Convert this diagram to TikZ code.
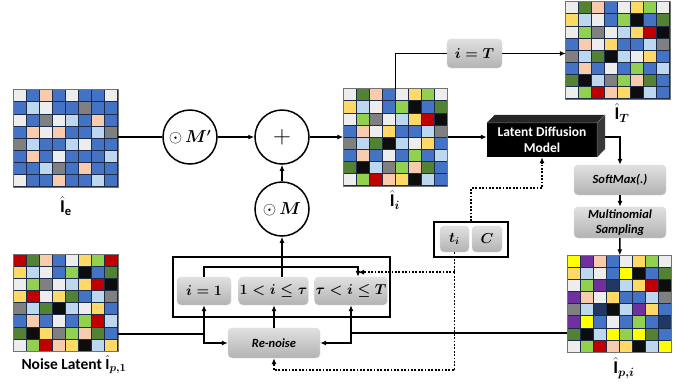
\documentclass[tikz,border=0pt]{standalone}
\usepackage{bm}
\usepackage{fontspec}
\setmainfont{Carlito}
\usetikzlibrary{arrows.meta,calc,positioning}

\definecolor{cB}{HTML}{4472C4}
\definecolor{cL}{HTML}{BDD7EE}
\definecolor{cW}{HTML}{EDEDED}
\definecolor{cP}{HTML}{F8CBAD}
\definecolor{cG}{HTML}{808080}
\definecolor{cY}{HTML}{FFD966}
\definecolor{cD}{HTML}{548235}
\definecolor{cN}{HTML}{92D050}
\definecolor{cK}{HTML}{0D0D0D}
\definecolor{cR}{HTML}{C00000}
\definecolor{cV}{HTML}{7030A0}
\definecolor{cU}{HTML}{FFFF00}
\definecolor{cA}{HTML}{1F3864}
\definecolor{gridline}{HTML}{1C2B4A}

\tikzset{
  gridbox/.style={minimum width=104pt, minimum height=97pt, inner sep=0pt},
  gridlabel/.style={font=\fontsize{18}{20}\selectfont},
  opcircle/.style={circle, draw, line width=1.5pt, minimum size=54pt, inner sep=0pt,
    font=\fontsize{16}{18}\selectfont},
  graybox/.style={rounded corners=4pt, top color=black!12, bottom color=black!30,
    draw=black!14, inner sep=1pt, align=center, font=\fontsize{12.5}{15}\selectfont\bfseries\itshape},
  mathbox/.style={graybox, font=\fontsize{14}{16}\selectfont\boldmath},
  framebox/.style={draw, line width=1.5pt, inner sep=0pt},
  ldmbox/.style={fill=black, text=white, minimum width=110pt, minimum height=34pt,
    inner sep=1pt, align=center, font=\fontsize{13.5}{16}\selectfont\bfseries},
  link/.style={line width=1.6pt},
  dotlink/.style={line width=1.8pt, dash pattern=on 1.8pt off 1.6pt},
  >={Latex[length=6pt,width=5pt]}
}

\newcommand{\latentgrid}[2]{%
  \begin{scope}[shift={(#1.north west)}]
    \foreach \cellrow [count=\ri] in {#2} {
      \foreach \cellc [count=\ci] in \cellrow {
        \path[fill=c\cellc, draw=gridline, line width=1pt]
          ({(\ci-1)*13},{(\ri-1)*12.125}) rectangle ++(13,12.125);
      }
    }
  \end{scope}
  \draw[draw=black!55, line width=1pt] (#1.north west) rectangle (#1.south east);
}

\begin{document}
\begin{tikzpicture}[x=1pt,y=-1pt]
  \useasboundingbox (0,0) rectangle (694,384);

  % latent grids
  \node[gridbox] (gridE) at (66,138.5) {};
  \node[gridbox] (gridN) at (66,303) {};
  \node[gridbox] (gridI) at (395.5,137.5) {};
  \node[gridbox] (gridT) at (618,50.5) {};
  \node[gridbox] (gridP) at (619.5,304) {};

  \latentgrid{gridE}{{W,B,P,B,W,B,B,W},{B,L,W,B,B,G,B,B},{W,B,G,W,L,B,P,B},{B,P,W,P,B,B,L,G},
    {G,L,B,B,L,W,B,B},{B,P,B,W,B,B,B,L},{B,B,L,G,B,P,B,B},{W,B,B,P,B,B,L,B}}
  \latentgrid{gridN}{{R,D,P,B,W,Y,N,R},{Y,L,W,B,N,K,B,D},{W,N,G,W,L,Y,R,K},{Y,R,W,Y,D,B,L,G},
    {G,L,D,K,L,W,Y,B},{B,P,B,W,B,N,R,L},{D,K,Y,G,N,P,D,B},{W,N,R,P,Y,K,L,Y}}
  \latentgrid{gridI}{{W,D,P,B,W,Y,N,W},{Y,L,W,B,N,K,B,D},{W,N,G,W,L,Y,R,K},{B,P,W,Y,B,B,L,G},
    {G,L,D,K,L,W,Y,B},{B,P,B,W,B,N,B,L},{D,K,L,G,N,P,D,B},{W,N,R,P,Y,K,L,B}}
  \latentgrid{gridT}{{W,D,P,B,W,Y,N,W},{Y,L,W,B,N,K,B,D},{W,N,G,W,L,Y,R,K},{B,P,W,Y,B,B,L,G},
    {G,L,D,K,L,W,Y,B},{B,P,B,W,B,N,B,L},{D,K,L,G,N,P,D,B},{W,N,R,P,Y,K,L,B}}
  \latentgrid{gridP}{{U,V,P,B,W,Y,N,W},{Y,L,W,B,U,K,B,D},{W,N,V,A,L,Y,R,K},{V,P,W,Y,B,B,L,G},
    {G,L,A,K,L,V,Y,B},{V,U,B,W,B,N,B,A},{D,K,L,U,N,U,D,B},{W,N,R,P,Y,K,L,U}}

  \node[gridlabel] (labE) at (66,206) {$\hat{\mathbf{I}}_{\mathbf{e}}$};
  \node[gridlabel] (labI) at (395,200) {$\hat{\mathbf{I}}_{\bm{i}}$};
  \node[gridlabel] (labT) at (622,113) {$\hat{\mathbf{I}}_{\bm{T}}$};
  \node[gridlabel] (labP) at (624,368) {$\hat{\mathbf{I}}_{\bm{p,i}}$};
  \node[font=\fontsize{15.5}{18}\selectfont\bfseries] (labN) at (74,365)
    {Noise Latent $\hat{\mathbf{I}}_{\bm{p,1}}$};

  % masking
  \node[opcircle] (mprime) at (190,137) {$\odot\,\bm{M'}$};
  \node[opcircle] (plus) at (282,137) {\fontsize{30}{30}\selectfont$+$};
  \node[opcircle] (mmask) at (282,209) {$\odot\,\bm{M}$};

  % diffusion
  \node[mathbox, minimum width=55pt, minimum height=29pt] (iT) at (474.5,53.5) {$i=T$};
  \node[ldmbox] (ldm) at (542,140) {Latent Diffusion\\Model};
  \node[graybox, minimum width=92pt, minimum height=30pt] (softmax) at (620,180) {SoftMax(.)};
  \node[graybox, minimum width=92pt, minimum height=31pt] (multi) at (620,222.5) {Multinomial\\Sampling};

  \node[framebox, minimum width=74pt, minimum height=35pt] (cond) at (471,239.5) {};
  \node[mathbox, minimum width=29pt, minimum height=26pt] (ti) at (454.5,239) {$t_i$};
  \node[mathbox, minimum width=30pt, minimum height=26pt] (cc) at (487,239) {$C$};

  % schedule
  \node[framebox, minimum width=217pt, minimum height=60pt] (stages) at (281.5,287) {};
  \node[mathbox, minimum width=54pt, minimum height=28pt] (s1) at (204,291) {$i=1$};
  \node[mathbox, minimum width=67pt, minimum height=28pt] (s2) at (273.5,291) {$1<i\le\tau$};
  \node[mathbox, minimum width=68pt, minimum height=28pt] (s3) at (351,291) {$\tau<i\le T$};
  \node[graybox, minimum width=92pt, minimum height=30pt] (renoise) at (274,343) {Re-noise};

  \coordinate (loop) at (358,267);
  \coordinate (nout) at ($(gridN.east)+(0,31)$);
  \coordinate (pout) at ($(gridP.west)+(0,29)$);
  \coordinate (tsplit) at ($(ti.south)+(0,20)$);

  \draw[link] (mprime.west -| gridE.east) -- (mprime.west);
  \draw[link,->] (mprime) -- (plus);
  \draw[link,->] (mmask) -- (plus);
  \draw[link,->] (plus.east) -- (plus.east -| gridI.west);
  \draw[link,->] (plus.east -| gridI.east) -- (plus.east -| ldm.west);
  \draw[link] (gridI.north) |- (iT.west);
  \draw[link,->] (iT.east) -- (iT.east -| gridT.west);
  \draw[link,->] ($(ldm.east)+(0,-3)$) -| (softmax.north);
  \draw[link,->] (softmax) -- (multi);
  \draw[link,->] (multi) -- (gridP);

  \fill[black!85] (ldm.north west) -- ++(8,-8) -- ++(110,0) -- (ldm.north east) -- cycle;
  \fill[black!78] (ldm.north east) -- ++(8,-8) -- ++(0,34) -- (ldm.south east) -- cycle;
  \draw[black!55, line width=.5pt] (ldm.north west) -- (ldm.north east) -- (ldm.south east)
    (ldm.north east) -- ++(8,-8);

  \draw[dotlink,->] (cond.north) -- ++(0,-33) -| (ldm.south);
  \draw[dotlink,->] (ti.south) -- ++(0,118) -| (renoise.south);
  \draw[dotlink,->] (tsplit) -- (tsplit -| loop);

  \draw[link,->] (s1.north) |- (loop) -- (loop |- s3.north);
  \draw[link,->] (mmask.south |- s2.north) -- (mmask.south);
  \draw[link,->] (renoise.north) -- (renoise.north |- s2.south);
  \draw[link,->] (nout) -| (s1.south);
  \draw[link,->] (nout -| s1.south) |- (renoise.west);
  \draw[link,->] (pout) -| (s3.south);
  \draw[link,->] (pout -| s3.south) |- (renoise.east);
\end{tikzpicture}
\end{document}
